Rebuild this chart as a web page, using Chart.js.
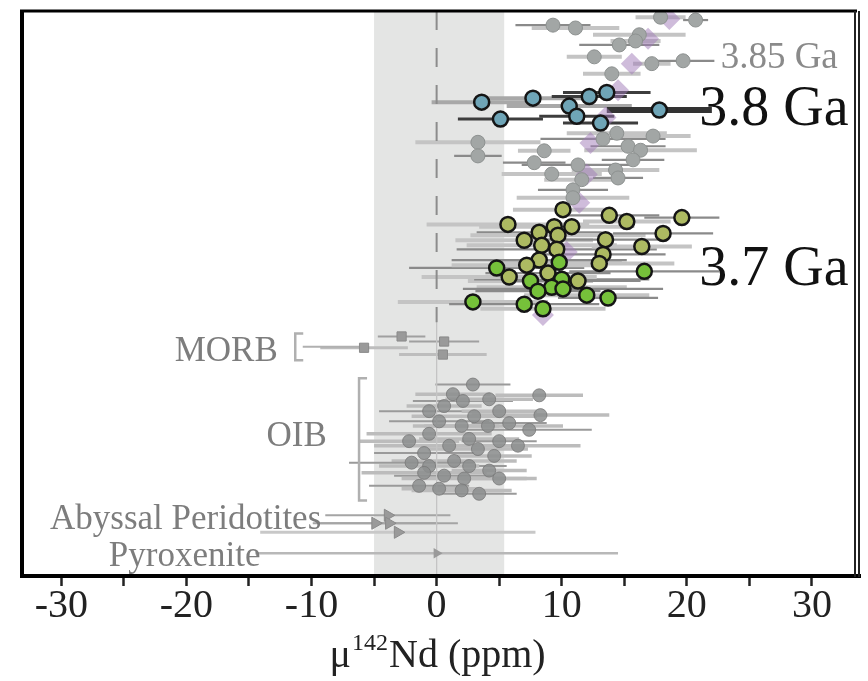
<!DOCTYPE html>
<html>
<head>
<meta charset="utf-8">
<script src="https://cdn.jsdelivr.net/npm/chart.js@4.4.1/dist/chart.umd.min.js"></script>
<style>
  html, body { margin: 0; padding: 0; background: #fff; }
  #wrap { width: 868px; height: 681px; }
</style>
</head>
<body>
<div id="wrap"><canvas id="chart"></canvas></div>
<script>
'use strict';

// Each entry: [mu142Nd (ppm), sample row (0 bottom .. 100 top), error (ppm)]
const gray385 = [[9.3,97.5,3],[11.1,97.0,3.5],[17.9,98.9,2],[20.7,98.4,1],[16.2,95.8,3.7],[15.9,94.7,2],
  [14.6,94.0,3.2],[12.6,91.9,2.2],[17.2,90.7,1.5],[19.7,91.2,2.5],[14.0,88.9,2.3]];
const grayMid = [[3.3,76.8,5],[3.3,74.4,1.9],[8.6,75.3,2.1],[7.8,73.2,2.5],[9.2,71.2,4],[11.3,72.8,4.5],
  [11.6,70.2,3],[10.9,68.4,2.8],[10.9,67.0,4.5],[13.3,77.4,5],[14.4,78.4,4],[15.3,76.1,3],[16.3,75.4,4.5],
  [15.7,73.7,2.5],[14.3,71.9,3.5],[14.5,70.5,2],[17.3,77.9,3]];
const blue38 = [[3.6,83.9,4],[7.7,84.6,4],[12.2,84.9,3],[13.6,85.6,3.5],[10.6,83.2,5],[11.2,81.4,3],
  [17.8,82.5,4.2],[5.1,80.9,3.4],[13.1,80.2,3]];
const purple = [[18.6,98.6],[16.9,95.1],[15.6,90.7],[14.5,86.0],[13.5,81.2],[12.3,76.7],[12.0,71.1],
  [11.4,66.1],[10.4,57.4],[8.5,46.3]];
const olive37 = [[10.1,64.9,4],[13.8,63.9,4],[15.2,62.8,3.5],[19.6,63.5,3],[5.7,62.3,6.5],[10.8,61.9,5],
  [9.4,61.9,6],[8.2,60.9,5],[9.7,60.4,7],[18.1,60.7,4],[7.0,59.5,5.5],[13.5,59.6,5],[8.4,58.6,6],
  [9.6,57.9,8],[16.4,58.4,4],[13.3,57.0,5],[13.0,55.4,6],[8.2,56.0,7],[7.2,55.1,6],[8.9,53.7,5],
  [5.8,53.0,7],[11.3,52.3,5]];
const green37 = [[4.8,54.6,7],[9.8,55.6,5],[16.6,54.0,6],[7.5,52.3,5],[10.0,52.6,7],[9.2,51.2,6],
  [8.1,50.5,5],[12.0,49.8,5],[13.7,49.3,4],[2.9,48.6,6],[7.0,48.2,6],[8.5,47.4,5],[10.1,50.9,8]];
const morb = [[-2.8,42.5,1.9],[-5.8,40.5,3.5],[0.6,41.6,2.8],[0.5,39.3,3.5]];
const oib = [[2.9,34.0,3],[8.2,32.1,3.5],[8.3,28.6,5.5],[7.4,26.0,5],[6.5,23.2,5],[1.3,32.3,3],
  [2.1,31.1,4],[0.6,30.2,3],[4.2,31.4,3.5],[-0.6,29.3,4],[3.0,28.4,5],[5.0,29.3,3],[0.2,27.5,4],
  [2.0,26.7,3],[4.1,26.7,6],[5.8,27.2,3],[-0.6,25.3,5],[2.6,24.4,4],[5.0,24.0,3],[1.0,23.2,6],
  [3.3,22.6,4],[-1.0,21.9,4],[4.6,21.4,3],[1.4,20.5,5],[2.6,19.6,3],[-0.6,19.6,4],[4.2,18.8,3],
  [0.6,17.9,4],[2.2,17.4,5],[5.0,17.4,3],[-1.4,16.1,4],[0.2,15.6,3],[2.0,15.3,4],[3.4,14.7,3],
  [-1.0,18.4,5],[-2.2,24.0,4],[-2.0,20.2,5]];
const abyssal = [[-3.9,10.9,5],[-4.9,9.5,5],[-3.8,9.5,5.5],[-3.1,7.9,11]];
const pyroxenite = [[0,4.2,14.5]];

const xTicks = [-30,-25,-20,-15,-10,-5,0,5,10,15,20,25,30];
const bulkSilicateBand = [-5, 5.4];

// Text annotations placed in data units.
const notes = [
  { text: '3.85 Ga', x: 22.7, y: 89.9, size: 37, color: '#8a8a8a', align: 'left' },
  { text: '3.8 Ga', x: 21.0, y: 79.8, size: 56, color: '#111', align: 'left' },
  { text: '3.7 Ga', x: 21.0, y: 51.6, size: 56, color: '#111', align: 'left' },
  { text: 'MORB', x: -12.7, y: 38.1, size: 35, color: '#7d7d7d', align: 'right' },
  { text: 'OIB', x: -13.6, y: 23.2, size: 35, color: '#7d7d7d', align: 'left' },
  { text: 'Abyssal Peridotites', x: -30.9, y: 8.4, size: 35, color: '#7d7d7d', align: 'left' },
  { text: 'Pyroxenite', x: -26.2, y: 1.9, size: 35, color: '#7d7d7d', align: 'left' },
];

const SERIF = '"Liberation Serif", "Times New Roman", serif';
const pts = (arr) => arr.map(d => ({ x: d[0], y: d[1] }));
const LIGHT = ['#c4c4c4', 4], DARK = ['#8a8a8a', 2.2];

// band, error bars (under points), brackets
const backdrop = {
  id: 'backdrop',
  beforeDatasetsDraw(chart) {
    const { ctx, chartArea: a, scales: { x, y } } = chart;
    ctx.save();
    ctx.fillStyle = '#e4e5e4';
    const b0 = x.getPixelForValue(bulkSilicateBand[0]), b1 = x.getPixelForValue(bulkSilicateBand[1]);
    ctx.fillRect(b0, a.top, b1 - b0, a.bottom - a.top);

    chart.data.datasets.forEach(ds => {
      if (!ds.errs) return;
      ds.errs.forEach((e, i) => {
        const p = ds.data[i];
        const st = ds.errStyle(i);
        ctx.strokeStyle = st[0];
        ctx.lineWidth = st[1];
        const yy = y.getPixelForValue(p.y);
        ctx.beginPath();
        ctx.moveTo(x.getPixelForValue(p.x - e), yy);
        ctx.lineTo(x.getPixelForValue(p.x + e), yy);
        ctx.stroke();
      });
    });

    // group brackets
    ctx.strokeStyle = '#b0b0b0';
    ctx.lineWidth = 2.5;
    const bracket = (xv, y0, y1) => {
      const px = x.getPixelForValue(xv);
      ctx.beginPath();
      ctx.moveTo(px + 8, y.getPixelForValue(y0));
      ctx.lineTo(px, y.getPixelForValue(y0));
      ctx.lineTo(px, y.getPixelForValue(y1));
      ctx.lineTo(px + 8, y.getPixelForValue(y1));
      ctx.stroke();
    };
    bracket(-11.3, 43.0, 38.3);
    bracket(-6.2, 35.1, 13.5);
    ctx.lineWidth = 2;
    ctx.beginPath();
    ctx.moveTo(x.getPixelForValue(-10.7), y.getPixelForValue(40.7));
    ctx.lineTo(x.getPixelForValue(-6.2), y.getPixelForValue(40.7));
    ctx.stroke();
    ctx.restore();
  },
  afterDatasetsDraw(chart) {
    const { ctx, chartArea: a, scales: { x, y } } = chart;
    ctx.save();
    notes.forEach(n => {
      ctx.font = `${n.size}px ${SERIF}`;
      ctx.fillStyle = n.color;
      ctx.textAlign = n.align;
      ctx.textBaseline = 'alphabetic';
      ctx.fillText(n.text, x.getPixelForValue(n.x), y.getPixelForValue(n.y));
    });

    // frame
    ctx.strokeStyle = '#000';
    ctx.lineWidth = 4;
    ctx.beginPath();
    ctx.moveTo(a.left + 2, a.bottom);
    ctx.lineTo(a.left + 2, a.top);
    ctx.stroke();
    ctx.lineWidth = 3;
    ctx.beginPath();
    ctx.moveTo(a.left, a.top);
    ctx.lineTo(a.right, a.top);
    ctx.stroke();
    ctx.lineWidth = 4;
    ctx.beginPath();
    ctx.moveTo(a.left, a.bottom - 1);
    ctx.lineTo(a.right + 4, a.bottom - 1);
    ctx.stroke();
    ctx.lineWidth = 2;
    ctx.strokeStyle = '#222';
    [a.right - 2, a.right + 2].forEach(px => {
      ctx.beginPath();
      ctx.moveTo(px, a.top);
      ctx.lineTo(px, a.bottom);
      ctx.stroke();
    });

    // axis title with superscript
    const cx = x.getPixelForValue(0), base = 667;
    const big = `40px ${SERIF}`, small = `24px ${SERIF}`;
    ctx.fillStyle = '#222';
    ctx.textAlign = 'left';
    ctx.font = big; const w1 = ctx.measureText('μ').width;
    ctx.font = small; const w2 = ctx.measureText('142').width;
    ctx.font = big; const w3 = ctx.measureText('Nd (ppm)').width;
    let sx = cx - (w1 + w2 + w3) / 2;
    ctx.fillText('μ', sx, base);
    ctx.font = small; ctx.fillText('142', sx + w1 + 1, base - 17);
    ctx.font = big; ctx.fillText('Nd (ppm)', sx + w1 + w2 + 2, base);
    ctx.restore();
  }
};

const grayPoint = { backgroundColor: '#a2a6a5', borderColor: '#8d9190', borderWidth: 1, pointRadius: 7 };
const ringed = { borderColor: '#151515', borderWidth: 2.5, pointRadius: 7.5 };

new Chart(document.getElementById('chart'), {
  type: 'scatter',
  data: {
    datasets: [
      { label: '3.8 Ga', data: pts(blue38), errs: blue38.map(d => d[2]),
        errStyle: i => (i === 6 ? ['#333', 6] : [0, 1, 4].includes(i) ? ['#a8a8a8', 4] : ['#3d3d3d', 3]),
        backgroundColor: '#6fa5b7', ...ringed, order: 0 },
      { label: '3.7 Ga bright', data: pts(green37), errs: green37.map(d => d[2]),
        errStyle: i => (i % 2 ? LIGHT : DARK),
        backgroundColor: '#76c13a', ...ringed, order: 0 },
      { label: '3.7 Ga', data: pts(olive37), errs: olive37.map(d => d[2]),
        errStyle: i => (i % 2 ? DARK : LIGHT),
        backgroundColor: '#adba62', ...ringed, order: 1 },
      { label: '3.85 Ga', data: pts(gray385), errs: gray385.map(d => d[2]),
        errStyle: i => (i % 3 === 0 ? DARK : LIGHT), ...grayPoint, order: 2 },
      { label: 'mid', data: pts(grayMid), errs: grayMid.map(d => d[2]),
        errStyle: i => (i % 2 ? DARK : LIGHT), ...grayPoint, order: 2 },
      { label: 'purple', data: pts(purple), pointStyle: 'rectRot', pointRadius: 11,
        backgroundColor: 'rgba(160,122,184,0.5)', borderWidth: 0, order: 3 },
      { label: 'MORB', data: pts(morb), errs: morb.map(d => d[2]),
        errStyle: i => (i % 2 ? ['#bdbdbd', 3] : ['#a0a0a0', 2]),
        pointStyle: 'rect', pointRadius: 6.5, backgroundColor: '#9a9a9a', borderColor: '#8a8a8a', borderWidth: 1, order: 2 },
      { label: 'OIB', data: pts(oib), errs: oib.map(d => d[2]),
        errStyle: i => (i % 3 ? ['#bcbcbc', 3.5] : ['#9a9a9a', 2]),
        pointRadius: 6.5, backgroundColor: 'rgba(140,142,142,0.85)', borderColor: 'rgba(120,120,120,0.8)', borderWidth: 1, order: 2 },
      { label: 'Abyssal', data: pts(abyssal), errs: abyssal.map(d => d[2]),
        errStyle: i => (i === 3 ? ['#c8c8c8', 3] : ['#a5a5a5', 2]),
        pointStyle: 'triangle', rotation: 90, pointRadius: 7, backgroundColor: '#9a9a9a', borderColor: '#8a8a8a', borderWidth: 1, order: 2 },
      { label: 'Pyroxenite', data: pts(pyroxenite), errs: pyroxenite.map(d => d[2]),
        errStyle: () => ['#b8b8b8', 2.5],
        pointStyle: 'triangle', rotation: 90, pointRadius: 6, backgroundColor: '#9a9a9a', borderWidth: 0, order: 2 },
      { label: 'zero', data: [{ x: 0, y: 100 }, { x: 0, y: 45 }], showLine: true, pointRadius: 0,
        borderColor: '#8c8c8c', borderWidth: 2, borderDash: [19, 18], order: 9 },
      { label: 'zero lower', data: [{ x: 0, y: 45 }, { x: 0, y: 0 }], showLine: true, pointRadius: 0,
        borderColor: '#c4c4c4', borderWidth: 1, order: 9 },
    ],
  },
  options: {
    responsive: true, maintainAspectRatio: false, animation: false,
    layout: { padding: { left: 20, right: 10, top: 7, bottom: 0 } },
    plugins: { legend: { display: false }, tooltip: { enabled: false } },
    scales: {
      x: {
        type: 'linear', min: -33.3, max: 33.6,
        afterFit: s => { s.height = 104; },
        afterBuildTicks: s => { s.ticks = xTicks.map(v => ({ value: v })); },
        border: { display: false },
        grid: { drawOnChartArea: false, drawTicks: true, tickLength: 9, tickWidth: 2.5, tickColor: '#222' },
        ticks: { padding: 0, color: '#222', font: { family: SERIF, size: 40, lineHeight: 1 },
          callback: v => (v % 10 === 0 ? String(v) : '') },
      },
      y: { type: 'linear', min: 0, max: 100, display: false },
    },
  },
  plugins: [backdrop],
});
</script>
</body>
</html>
